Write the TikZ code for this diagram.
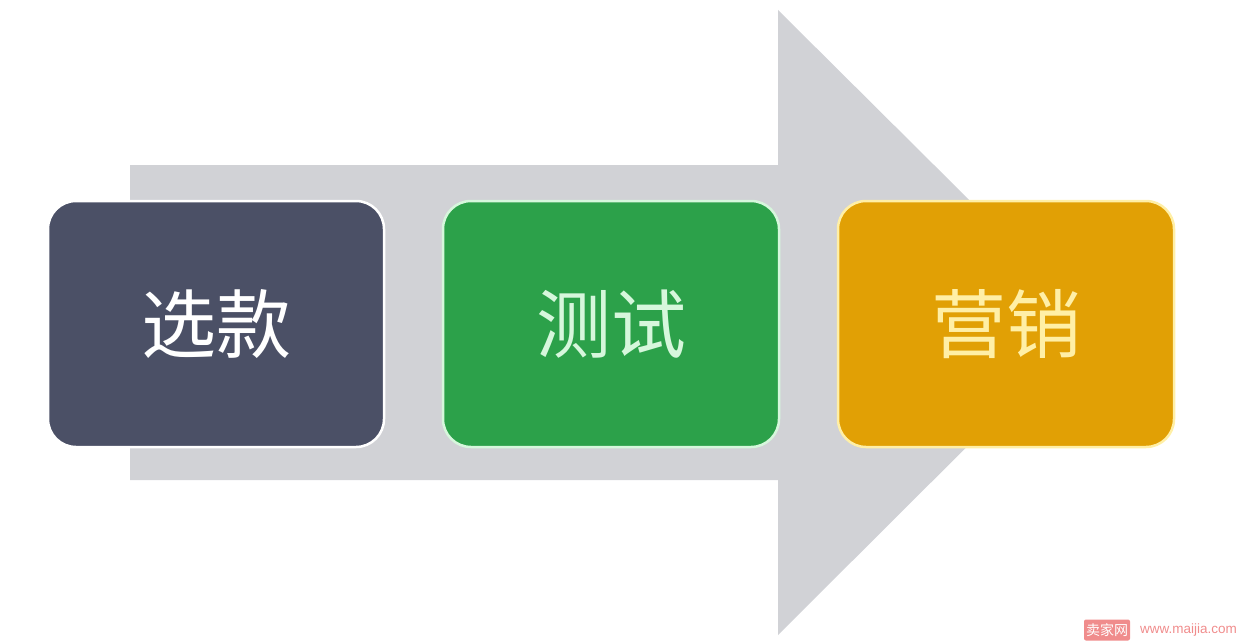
\documentclass[tikz,border=0pt]{standalone}
\usepackage{fontspec}
\setmainfont{Liberation Sans}
\newfontfamily\cjk{Noto Sans CJK SC}
\usepackage{tikz}
\usetikzlibrary{shapes}
\definecolor{arrowgrey}{HTML}{D1D2D6}
\definecolor{slate}{HTML}{4B5066}
\definecolor{leafgreen}{HTML}{2CA14A}
\definecolor{amber}{HTML}{E1A005}
\definecolor{mintline}{HTML}{D6F7DC}
\definecolor{creamline}{HTML}{FFEFA6}
\definecolor{markpink}{HTML}{F08C8C}
\tikzstyle{stepelement}=[rounded corners=28pt,line width=2.5pt,minimum width=336pt,minimum height=246pt,inner sep=0pt,font=\cjk\fontsize{75}{75}\selectfont]
\tikzstyle{bigarrow}=[fill=arrowgrey,draw=none]
\tikzstyle{sitetag}=[fill=markpink,text=white,rounded corners=2pt,inner sep=2pt,minimum height=21pt,font=\cjk\fontsize{14}{14}\selectfont]
\tikzstyle{sitelink}=[text=markpink,inner sep=0pt,font=\fontsize{13.5}{13.5}\selectfont]

\begin{document}
\begin{tikzpicture}[x=1pt,y=-1pt]

\useasboundingbox (0,0) rectangle (1243,642);

\fill[bigarrow] (130,165) -- (778,165) -- (778,10) -- (1092,322) -- (778,635) -- (778,480) -- (130,480) -- cycle;

\node[stepelement,fill=slate,draw=white,text=white] (S1) at (216,324) {选款};
\node[stepelement,fill=leafgreen,draw=mintline,text=mintline] (S2) at (611,324) {测试};
\node[stepelement,fill=amber,draw=creamline,text=creamline] (S3) at (1006,324) {营销};

\node[sitetag] (W1) at (1107,630) {卖家网};
\node[sitelink,anchor=west] (W2) at (1140,630) {www.maijia.com};

\end{tikzpicture}
\end{document}
